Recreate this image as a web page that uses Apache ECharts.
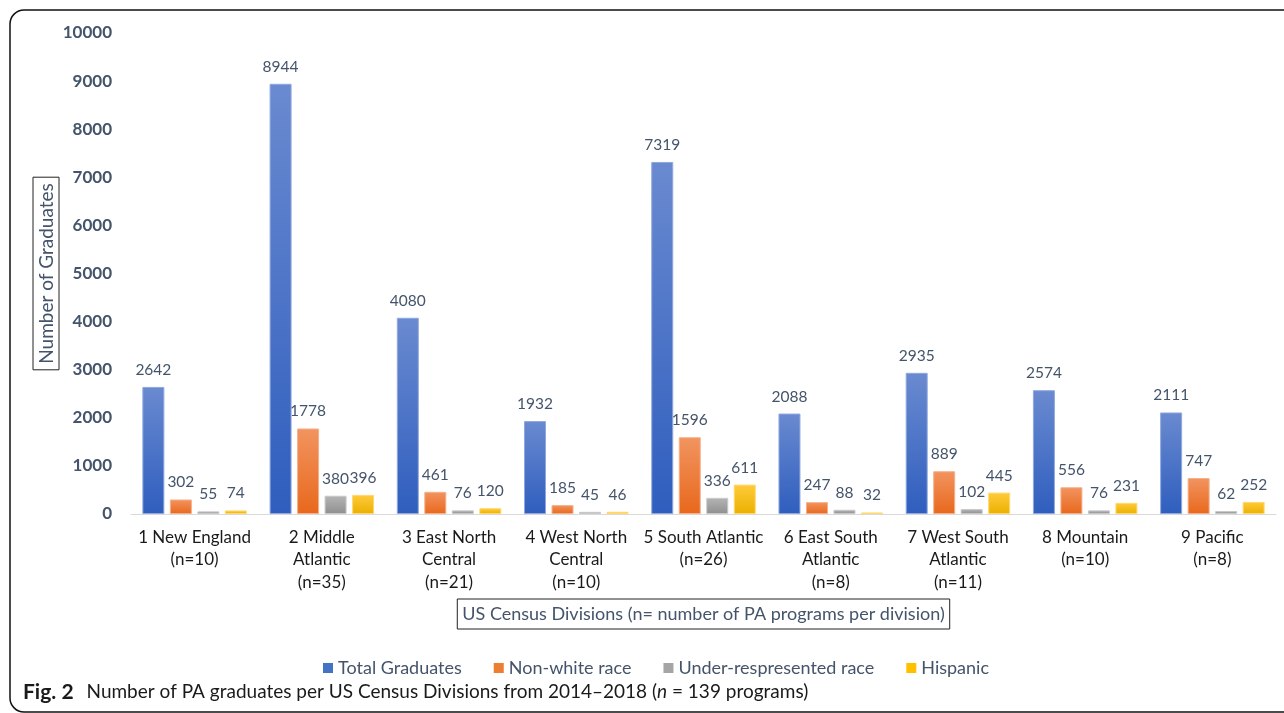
<!DOCTYPE html>
<html>
<head>
<meta charset="utf-8">
<script src="https://cdn.jsdelivr.net/npm/echarts@6/dist/echarts.min.js"></script>
<style>html,body{margin:0;padding:0;background:#fff;}#c{width:1284px;height:713px;}</style>
</head>
<body>
<div id="c"></div>
<script>
const categories = ['1 New England\n(n=10)', '2 Middle\nAtlantic\n(n=35)', '3 East North\nCentral\n(n=21)', '4 West North\nCentral\n(n=10)', '5 South Atlantic\n(n=26)', '6 East South\nAtlantic\n(n=8)', '7 West South\nAtlantic\n(n=11)', '8 Mountain\n(n=10)', '9 Pacific\n(n=8)'];
const totalGraduates = [2642, 8944, 4080, 1932, 7319, 2088, 2935, 2574, 2111];
const nonWhite = [302, 1778, 461, 185, 1596, 247, 889, 556, 747];
const underRep = [55, 380, 76, 45, 336, 88, 102, 76, 62];
const hispanic = [74, 396, 120, 46, 611, 32, 445, 231, 252];
const yTicks = {min: 0, max: 10000, interval: 1000};

const FONT = 'Lato, "Noto Sans", sans-serif';
const SLATE = '#44546A';
function grad(top, bottom) {
  return {type: 'linear', x: 0, y: 0, x2: 0, y2: 1, colorStops: [{offset: 0, color: top}, {offset: 1, color: bottom}]};
}
function mk(name, data, top, bottom, border) {
  return {
    name: name, type: 'bar', data: data, barWidth: 22, barGap: '25%',
    itemStyle: {color: grad(top, bottom), borderColor: border, borderWidth: 1},
    label: {show: true, position: 'top', distance: 9, color: SLATE, fontSize: 15.5, fontFamily: FONT},
    emphasis: {disabled: true}
  };
}
const chart = echarts.init(document.getElementById('c'));
chart.setOption({
  animation: false,
  textStyle: {fontFamily: FONT},
  grid: {left: 131, right: 8, top: 33, bottom: 199, containLabel: false},
  legend: {
    left: 318, top: 654, icon: 'rect', itemWidth: 10, itemHeight: 10, itemGap: 32,
    itemStyle: {borderWidth: 0},
    textStyle: {color: SLATE, fontSize: 18, fontFamily: FONT},
    data: [
      {name: 'Total Graduates', itemStyle: {color: '#4472C4'}},
      {name: 'Non-white race', itemStyle: {color: '#ED7D31'}},
      {name: 'Under-respresented race', itemStyle: {color: '#A5A5A5'}},
      {name: 'Hispanic', itemStyle: {color: '#FFC000'}}
    ],
    selectedMode: false
  },
  xAxis: {
    type: 'category', data: categories,
    axisLine: {lineStyle: {color: '#D9D9D9', width: 1}},
    axisTick: {show: false},
    axisLabel: {color: '#1a1a1a', fontSize: 17, lineHeight: 22.5, margin: 12, interval: 0, fontFamily: FONT},
    name: 'US Census Divisions (n= number of PA programs per division)',
    nameLocation: 'middle', nameGap: 85, nameMoveOverlap: false,
    nameTextStyle: {color: SLATE, fontSize: 18, fontFamily: FONT, borderColor: '#222', borderWidth: 1, padding: [6, 5, 6, 5]}
  },
  yAxis: {
    type: 'value', min: yTicks.min, max: yTicks.max, interval: yTicks.interval,
    splitLine: {show: false},
    axisLine: {show: false}, axisTick: {show: false},
    axisLabel: {color: SLATE, fontSize: 17, fontWeight: 'bold', margin: 19, fontFamily: FONT, formatter: v => String(v)},
    name: 'Number of Graduates', nameLocation: 'middle', nameGap: 72, nameRotate: 90, nameMoveOverlap: false,
    nameTextStyle: {color: SLATE, fontSize: 19, fontFamily: FONT, borderColor: '#222', borderWidth: 1, padding: [4, 6, 3, 6]}
  },
  series: [
    mk('Total Graduates', totalGraduates, '#6A8AD0', '#2F5EBE', '#8FA8DE'),
    mk('Non-white race', nonWhite, '#F29460', '#E8681C', '#F5B08A'),
    mk('Under-respresented race', underRep, '#B5B5B5', '#8F8F8F', '#C8C8C8'),
    mk('Hispanic', hispanic, '#FFCB3C', '#EBB000', '#FFD96E')
  ],
  graphic: [
    {type: 'rect', shape: {x: 10, y: 10, width: 1320, height: 702, r: 14}, style: {fill: 'none', stroke: '#111', lineWidth: 1.5}, silent: true},
    {type: 'text', x: 23, y: 692, style: {
      text: '{b|Fig. 2}{s| }{r|Number of PA graduates per US Census Divisions from 2014–2018 (}{i|n}{r| = 139 programs)}',
      verticalAlign: 'middle',
      rich: {
        b: {fontWeight: 'bold', fontSize: 21, fill: '#1a1a1a', fontFamily: FONT},
        s: {width: 13, fontSize: 19},
        r: {fontSize: 19, fill: '#1a1a1a', fontFamily: FONT},
        i: {fontSize: 19, fontStyle: 'italic', fill: '#1a1a1a', fontFamily: FONT}
      }
    }}
  ]
});
</script>
</body>
</html>
